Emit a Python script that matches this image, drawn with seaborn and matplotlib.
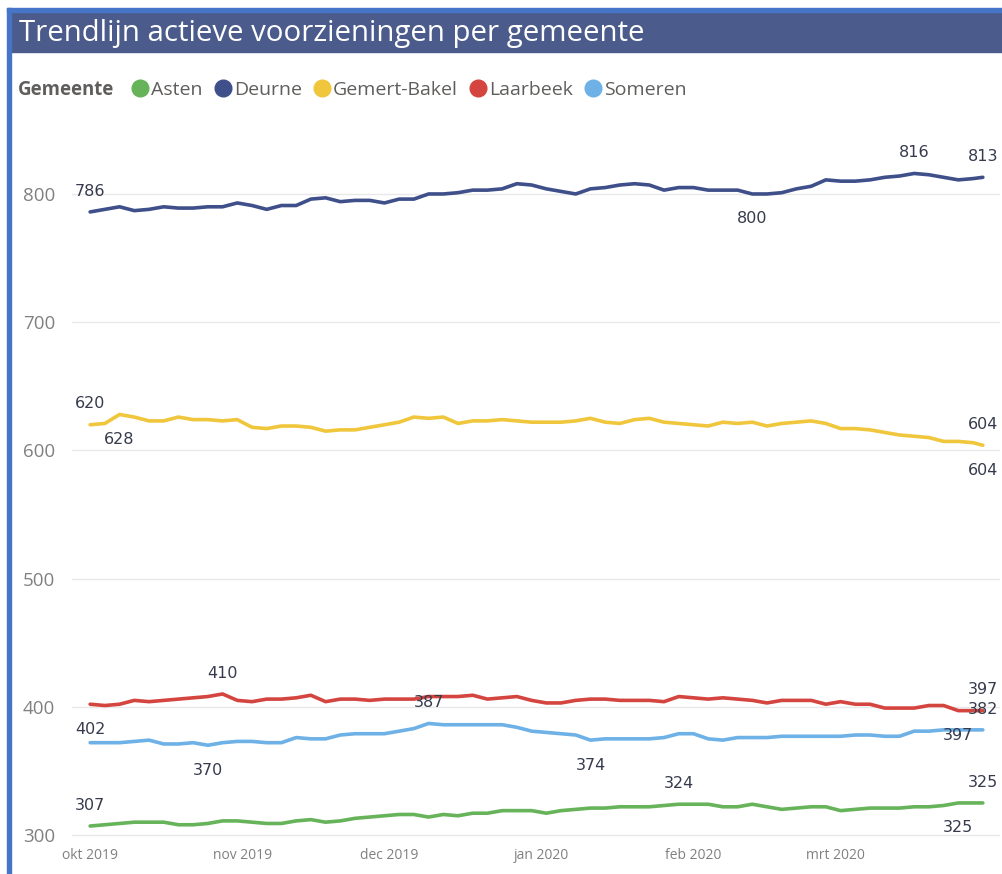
import numpy as np
import pandas as pd
import seaborn as sns
import matplotlib.pyplot as plt
from matplotlib.lines import Line2D
from matplotlib.patches import Rectangle

# gemeenten + kleuren (legend order)
gemeenten = ["Asten", "Deurne", "Gemert-Bakel", "Laarbeek", "Someren"]
kleuren = ["#66b35a", "#3f4f8a", "#f0c63c", "#d4453f", "#6db1e6"]

# values every 3 days from 1 okt 2019, plus 31 mrt 2020
asten = [307, 308, 309, 310, 310, 310, 308, 308, 309, 311,
         311, 310, 309, 309, 311, 312, 310, 311, 313, 314,
         315, 316, 316, 314, 316, 315, 317, 317, 319, 319,
         319, 317, 319, 320, 321, 321, 322, 322, 322, 323,
         324, 324, 324, 322, 322, 324, 322, 320, 321, 322,
         322, 319, 320, 321, 321, 321, 322, 322, 323, 325,
         325, 325]
deurne = [786, 788, 790, 787, 788, 790, 789, 789, 790, 790,
          793, 791, 788, 791, 791, 796, 797, 794, 795, 795,
          793, 796, 796, 800, 800, 801, 803, 803, 804, 808,
          807, 804, 802, 800, 804, 805, 807, 808, 807, 803,
          805, 805, 803, 803, 803, 800, 800, 801, 804, 806,
          811, 810, 810, 811, 813, 814, 816, 815, 813, 811,
          812, 813]
gemert_bakel = [620, 621, 628, 626, 623, 623, 626, 624, 624, 623,
                624, 618, 617, 619, 619, 618, 615, 616, 616, 618,
                620, 622, 626, 625, 626, 621, 623, 623, 624, 623,
                622, 622, 622, 623, 625, 622, 621, 624, 625, 622,
                621, 620, 619, 622, 621, 622, 619, 621, 622, 623,
                621, 617, 617, 616, 614, 612, 611, 610, 607, 607,
                606, 604]
laarbeek = [402, 401, 402, 405, 404, 405, 406, 407, 408, 410,
            405, 404, 406, 406, 407, 409, 404, 406, 406, 405,
            406, 406, 406, 408, 408, 408, 409, 406, 407, 408,
            405, 403, 403, 405, 406, 406, 405, 405, 405, 404,
            408, 407, 406, 407, 406, 405, 403, 405, 405, 405,
            402, 404, 402, 402, 399, 399, 399, 401, 401, 397,
            397, 397]
someren = [372, 372, 372, 373, 374, 371, 371, 372, 370, 372,
           373, 373, 372, 372, 376, 375, 375, 378, 379, 379,
           379, 381, 383, 387, 386, 386, 386, 386, 386, 384,
           381, 380, 379, 378, 374, 375, 375, 375, 375, 376,
           379, 379, 375, 374, 376, 376, 376, 377, 377, 377,
           377, 377, 378, 378, 377, 377, 381, 381, 382, 382,
           382, 382]

maand_ticks = ["2019-10-01", "2019-11-01", "2019-12-01", "2020-01-01", "2020-02-01", "2020-03-01"]
maand_labels = ["okt 2019", "nov 2019", "dec 2019", "jan 2020", "feb 2020", "mrt 2020"]

# data labels: gemeente, datum, boven/onder
data_labels = [
    ("Deurne", "2019-10-01", "boven"), ("Deurne", "2020-03-17", "boven"),
    ("Deurne", "2020-03-31", "boven"), ("Deurne", "2020-02-13", "onder"),
    ("Gemert-Bakel", "2019-10-01", "boven"), ("Gemert-Bakel", "2019-10-07", "onder"),
    ("Gemert-Bakel", "2020-03-31", "boven"), ("Gemert-Bakel", "2020-03-31", "onder"),
    ("Laarbeek", "2019-10-28", "boven"), ("Laarbeek", "2019-10-01", "onder"),
    ("Laarbeek", "2020-03-31", "boven"), ("Laarbeek", "2020-03-26", "onder"),
    ("Someren", "2019-12-09", "boven"), ("Someren", "2019-10-25", "onder"),
    ("Someren", "2020-01-11", "onder"), ("Someren", "2020-03-31", "boven"),
    ("Asten", "2019-10-01", "boven"), ("Asten", "2020-01-29", "boven"),
    ("Asten", "2020-03-31", "boven"), ("Asten", "2020-03-26", "onder"),
]

datums = pd.date_range("2019-10-01", periods=61, freq="3D").append(pd.DatetimeIndex(["2020-03-31"]))
reeksen = [asten, deurne, gemert_bakel, laarbeek, someren]
df = pd.concat([pd.DataFrame({"datum": datums, "waarde": r, "gemeente": g})
                for g, r in zip(gemeenten, reeksen)], ignore_index=True)

sns.set_style("white")
plt.rcParams["font.family"] = ["Open Sans", "DejaVu Sans"]

W, H = 1002, 874
fig = plt.figure(figsize=(W / 100, H / 100), dpi=100)

# frame + title bar
fig.patches.append(Rectangle((11 / W, 1 - 52 / H), 1, 40 / H, transform=fig.transFigure,
                             color="#4b5b8b", zorder=0))
fig.patches.append(Rectangle((7 / W, 1 - 12 / H), 1, 4 / H, transform=fig.transFigure,
                             color="#4674c6", zorder=1))
fig.patches.append(Rectangle((7 / W, 0), 4 / W, 1 - 8 / H, transform=fig.transFigure,
                             color="#4674c6", zorder=1))
fig.text(19 / W, 1 - 33 / H, "Trendlijn actieve voorzieningen per gemeente", color="white",
         fontsize=21.2, va="center", ha="left")

# legend
fig.text(18 / W, 1 - 90 / H, "Gemeente", fontsize=13.4, fontweight="bold", color="#605e5c",
         va="center", ha="left")
handles = [Line2D([], [], marker="o", linestyle="", markersize=12, color=k) for k in kleuren]
fig.legend(handles, gemeenten, loc="center left", bbox_to_anchor=(131 / W, 1 - 90 / H),
           ncol=5, frameon=False, fontsize=14, labelcolor="#605e5c", handlelength=0.95,
           handletextpad=0.1, columnspacing=0.55, borderpad=0, borderaxespad=0)

ax = fig.add_axes([72 / W, 1 - 845 / H, 928 / W, 715 / H])
sns.lineplot(data=df, x="datum", y="waarde", hue="gemeente", hue_order=gemeenten,
             palette=dict(zip(gemeenten, kleuren)), linewidth=2.6, legend=False, ax=ax)

for g, d, plek in data_labels:
    v = df.loc[(df["gemeente"] == g) & (df["datum"] == pd.Timestamp(d)), "waarde"].iloc[0]
    dy = 15 if plek == "boven" else -18
    ax.annotate(str(v), (pd.Timestamp(d), v), xytext=(0, dy), textcoords="offset points",
                ha="center", va="center", fontsize=11.5, color="#363a4c",
                family=["DejaVu Sans"])

ax.set_xlim(pd.Timestamp("2019-10-01") - pd.Timedelta(days=3.7),
            pd.Timestamp("2020-03-31") + pd.Timedelta(days=3.5))
ax.set_ylim(292.2, 849.9)
ax.set_yticks([300, 400, 500, 600, 700, 800])
ax.set_xticks(pd.to_datetime(maand_ticks))
ax.set_xticklabels(maand_labels)
ax.tick_params(axis="y", length=0, pad=12, labelsize=13.5, labelcolor="#808080")
ax.tick_params(axis="x", length=0, pad=2, labelsize=10, labelcolor="#808080")
ax.grid(axis="y", color="#e8e8e8", linewidth=1)
ax.set_xlabel("")
ax.set_ylabel("")
sns.despine(ax=ax, left=True, bottom=True)

fig.savefig("out.png", dpi=100)
